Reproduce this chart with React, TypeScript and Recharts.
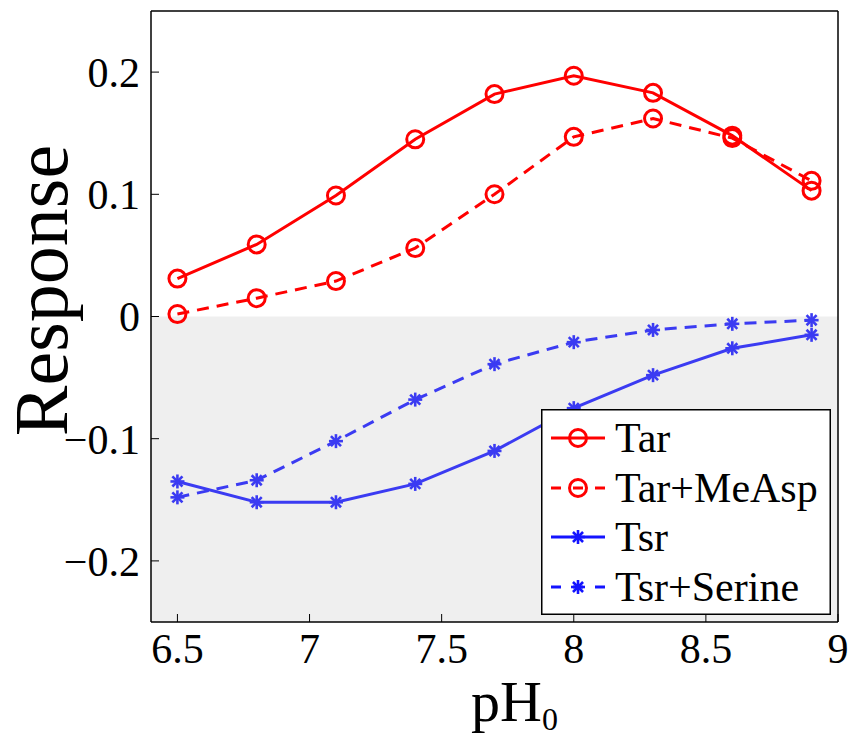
import React from 'react';
import {
  LineChart,
  Line,
  XAxis,
  YAxis,
  ReferenceArea,
  Legend,
} from 'recharts';

// pH0 values sampled in the experiment
const phValues = [6.5, 6.8, 7.1, 7.4, 7.7, 8.0, 8.3, 8.6, 8.9];

// responses
const tarResp = [0.031, 0.059, 0.099, 0.145, 0.182, 0.197, 0.183, 0.148, 0.103];
const tarMeAspResp = [0.002, 0.015, 0.029, 0.056, 0.1, 0.147, 0.162, 0.146, 0.111];
const tsrResp = [-0.135, -0.152, -0.152, -0.137, -0.11, -0.075, -0.048, -0.026, -0.015];
const tsrSerineResp = [-0.148, -0.134, -0.102, -0.068, -0.039, -0.021, -0.011, -0.006, -0.003];

const xTicks = [6.5, 7, 7.5, 8, 8.5, 9];
const yTicks = [-0.2, -0.1, 0, 0.1, 0.2];

const RED = '#ff0000';
const BLUE = '#3b3bf2';
const LEGEND_BLUE = '#1414ff';
const FONT = '"Liberation Serif", "Times New Roman", serif';

const data = phValues.map((ph, i) => ({
  ph,
  tar: tarResp[i],
  tarMeAsp: tarMeAspResp[i],
  tsr: tsrResp[i],
  tsrSerine: tsrSerineResp[i],
}));

type Series = { key: string; name: string; color: string; legendColor: string; dashed: boolean; marker: 'circle' | 'star' };

const series: Series[] = [
  { key: 'tar', name: 'Tar', color: RED, legendColor: RED, dashed: false, marker: 'circle' },
  { key: 'tarMeAsp', name: 'Tar+MeAsp', color: RED, legendColor: RED, dashed: true, marker: 'circle' },
  { key: 'tsr', name: 'Tsr', color: BLUE, legendColor: LEGEND_BLUE, dashed: false, marker: 'star' },
  { key: 'tsrSerine', name: 'Tsr+Serine', color: BLUE, legendColor: LEGEND_BLUE, dashed: true, marker: 'star' },
];

function Marker({ cx, cy, color, kind }: { cx: number; cy: number; color: string; kind: string }) {
  if (kind === 'circle') {
    return <circle cx={cx} cy={cy} r={8.5} fill="none" stroke={color} strokeWidth={3} />;
  }
  const r = 7;
  const d = r * 0.72;
  return (
    <g stroke={color} strokeWidth={2.6} strokeLinecap="butt">
      <line x1={cx - r} y1={cy} x2={cx + r} y2={cy} />
      <line x1={cx} y1={cy - r} x2={cx} y2={cy + r} />
      <line x1={cx - d} y1={cy - d} x2={cx + d} y2={cy + d} />
      <line x1={cx - d} y1={cy + d} x2={cx + d} y2={cy - d} />
    </g>
  );
}

function fmtY(v: number) {
  if (v === 0) return '0';
  return v < 0 ? '\u2212' + Math.abs(v).toFixed(1) : v.toFixed(1);
}

function LegendBox() {
  const rows = [29, 79, 128, 178];
  return (
    <svg width={290} height={206} style={{ display: 'block' }}>
      <rect x={0.75} y={0.75} width={288.5} height={204.5} fill="#ffffff" stroke="#000" strokeWidth={1.5} />
      {series.map((s, i) => (
        <g key={s.key}>
          <line
            x1={10}
            x2={64}
            y1={rows[i]}
            y2={rows[i]}
            stroke={s.legendColor}
            strokeWidth={3}
            strokeDasharray={s.dashed ? '10 12 10 12 10' : undefined}
          />
          <Marker cx={37} cy={rows[i]} color={s.legendColor} kind={s.marker} />
          <text x={74} y={rows[i] + 14} fontFamily={FONT} fontSize={42} fill="#000">
            {s.name}
          </text>
        </g>
      ))}
    </svg>
  );
}

const XLabel = (props: any) => {
  const vb = props.viewBox;
  return (
    <text x={vb.x + vb.width / 2 + 20} y={vb.y + 99} textAnchor="middle" fontFamily={FONT} fill="#000">
      <tspan fontSize={58}>pH</tspan>
      <tspan fontSize={32} dy={9}>0</tspan>
    </text>
  );
};

const YLabel = (props: any) => {
  const vb = props.viewBox;
  const x = vb.x + 60;
  const y = vb.y + vb.height / 2 - 26;
  return (
    <text x={x} y={y} transform={`rotate(-90 ${x} ${y})`} textAnchor="middle" fontFamily={FONT} fontSize={76} fill="#000">
      Response
    </text>
  );
};

export default function App() {
  const tickStyle = { fontFamily: FONT, fontSize: 42, fill: '#000' };
  const frame = { stroke: '#000', strokeWidth: 1.5 };
  const tickMark = { stroke: '#000', strokeWidth: 1 };
  return (
    <div style={{ width: 851, height: 737, background: '#fff', position: 'relative' }}>
      <style>{'body{margin:0}'}</style>
      <LineChart width={851} height={737} data={data} margin={{ top: 10, right: 12, bottom: 0, left: 7 }}>
        <ReferenceArea
          xAxisId="b"
          yAxisId="l"
          x1={6.4}
          x2={9}
          y1={-0.25}
          y2={0}
          fill="#efefef"
          fillOpacity={1}
          stroke="none"
        />
        <XAxis
          xAxisId="b"
          dataKey="ph"
          type="number"
          domain={[6.4, 9]}
          ticks={xTicks}
          interval={0}
          height={115}
          tickSize={-8}
          tickMargin={19}
          tick={tickStyle}
          tickFormatter={(v: number) => String(v)}
          axisLine={frame}
          tickLine={tickMark}
          label={{ content: XLabel }}
        />
        <XAxis
          xAxisId="t"
          orientation="top"
          dataKey="ph"
          type="number"
          domain={[6.4, 9]}
          ticks={xTicks}
          interval={0}
          height={1}
          tickSize={-8}
          tick={false}
          axisLine={frame}
          tickLine={tickMark}
        />
        <YAxis
          yAxisId="l"
          type="number"
          domain={[-0.25, 0.25]}
          ticks={yTicks}
          interval={0}
          width={144}
          tickSize={-8}
          tickMargin={19}
          tick={tickStyle}
          tickFormatter={fmtY}
          axisLine={frame}
          tickLine={tickMark}
          label={{ content: YLabel }}
        />
        <YAxis
          yAxisId="r"
          orientation="right"
          type="number"
          domain={[-0.25, 0.25]}
          ticks={yTicks}
          interval={0}
          width={1}
          tickSize={-8}
          tick={false}
          axisLine={frame}
          tickLine={tickMark}
        />
        {series.map((s) => (
          <Line
            key={s.key}
            xAxisId="b"
            yAxisId="l"
            dataKey={s.key}
            name={s.name}
            type="linear"
            stroke={s.color}
            strokeWidth={3}
            strokeDasharray={s.dashed ? '12 8' : undefined}
            isAnimationActive={false}
            dot={(p: any) => <Marker key={`${s.key}-${p.index}`} cx={p.cx} cy={p.cy} color={s.color} kind={s.marker} />}
            activeDot={false}
          />
        ))}
        <Legend
          layout="vertical"
          align="center"
          verticalAlign="middle"
          wrapperStyle={{ position: 'absolute', left: 541, top: 409, width: 290, height: 206 }}
          content={() => <LegendBox />}
        />
      </LineChart>
    </div>
  );
}
